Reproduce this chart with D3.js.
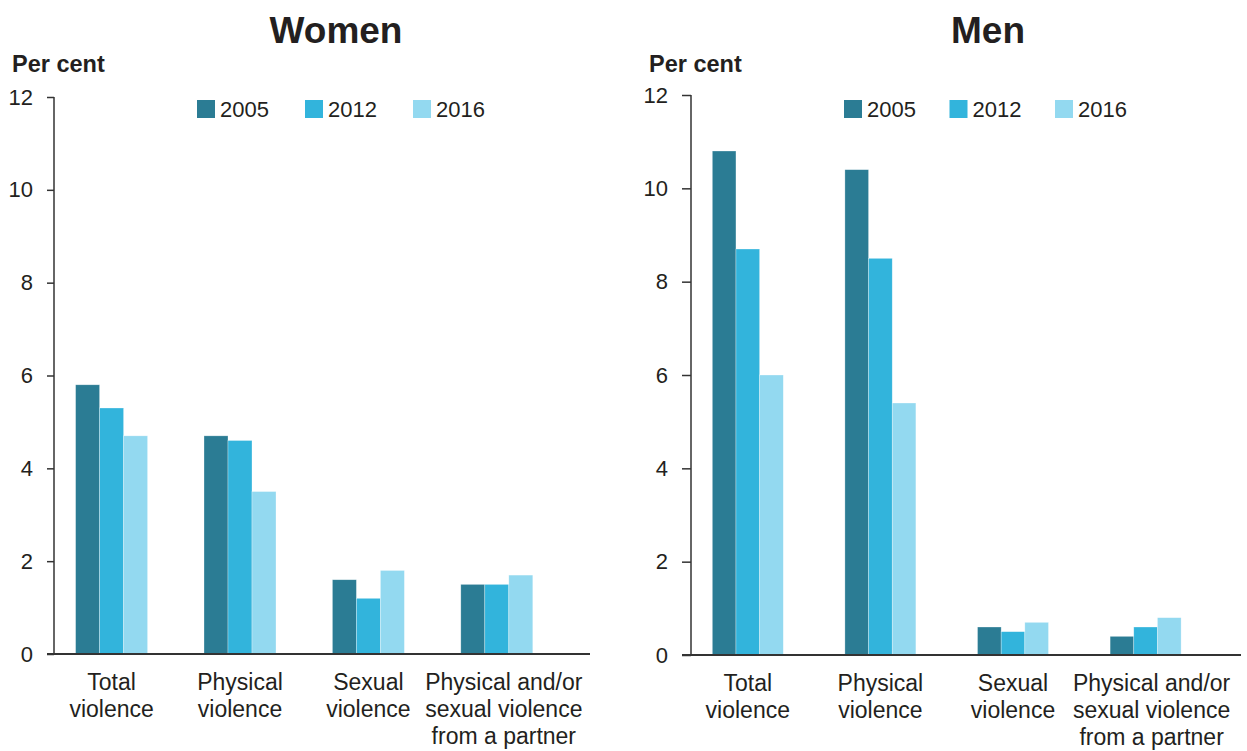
<!DOCTYPE html>
<html><head><meta charset="utf-8">
<script src="https://cdn.jsdelivr.net/npm/d3@7"></script>
<style>body{margin:0;background:#fff}svg{display:block}text{font-family:"Liberation Sans",Arial,sans-serif;fill:#231f20}</style>
</head><body>
<svg id="c" width="1247" height="751"></svg>
<script>
const categories = ["Total violence", "Physical violence", "Sexual violence", "Physical and/or sexual violence from a partner"];
const categoryLines = [["Total","violence"],["Physical","violence"],["Sexual","violence"],["Physical and/or","sexual violence","from a partner"]];
const years = ["2005", "2012", "2016"];
const colors = ["#2b7c94", "#32b4dc", "#93d9f0"];
const yTicks = [0, 2, 4, 6, 8, 10, 12];
const women2005 = [5.8, 4.7, 1.6, 1.5];
const women2012 = [5.3, 4.6, 1.2, 1.5];
const women2016 = [4.7, 3.5, 1.8, 1.7];
const men2005 = [10.8, 10.4, 0.6, 0.4];
const men2012 = [8.7, 8.5, 0.5, 0.6];
const men2016 = [6.0, 5.4, 0.7, 0.8];

const svg = d3.select("#c");

function panel(o) {
  const g = svg.append("g");
  const y = d3.scaleLinear().domain([0, 12]).range([o.y0, o.y12]);
  const x = d3.scaleBand().domain(categories).range([o.bx0, o.bx1]).paddingInner(o.pIn).paddingOuter(o.pOut);
  const xs = d3.scaleBand().domain(years).range([0, x.bandwidth()]);
  const series = o.series;

  g.append("text").attr("x", o.titleX).attr("y", 43).attr("text-anchor", "middle")
    .style("font-size", "37px").style("font-weight", "bold").text(o.title);
  g.append("text").attr("x", o.perX).attr("y", 72)
    .style("font-size", "23.5px").style("font-weight", "bold").text("Per cent");

  // bars
  categories.forEach((c, i) => {
    years.forEach((yr, j) => {
      const v = series[j][i];
      g.append("rect").attr("x", x(c) + xs(yr)).attr("y", y(v))
        .attr("width", xs.bandwidth()).attr("height", y(0) - y(v))
        .attr("fill", colors[j]).attr("stroke", "#fff").attr("stroke-width", 0.6).attr("stroke-opacity", 0.5);
    });
  });

  // y axis
  const ya = g.append("g").attr("transform", `translate(${o.axisX},0)`)
    .call(d3.axisLeft(y).tickValues(yTicks).tickSize(o.tickLen).tickPadding(o.tickPad).tickFormat(d3.format("d")));
  ya.select(".domain").attr("stroke", "#333").attr("stroke-width", 1.5).attr("d", `M0,${y(12)}V${y(0)}`);
  ya.selectAll(".tick line").attr("stroke", "#333").attr("stroke-width", 1.5);
  ya.selectAll(".tick text").style("font-size", "22px").attr("fill", "#231f20").style("font-family", '"Liberation Sans",Arial,sans-serif');

  // x baseline
  g.append("line").attr("x1", o.bx0).attr("x2", o.baseEnd).attr("y1", y(0)).attr("y2", y(0))
    .attr("stroke", "#333").attr("stroke-width", 1.8);

  // category labels
  categories.forEach((c, i) => {
    const t = g.append("text").attr("text-anchor", "middle").style("font-size", "23px");
    categoryLines[i].forEach((ln, k) => {
      t.append("tspan").attr("x", x(c) + x.bandwidth() / 2 + (i === 3 ? o.lastShift : 0))
        .attr("y", y(0) + 35.5 + k * 27).text(ln);
    });
  });

  // legend
  years.forEach((yr, j) => {
    const lx = o.legX + j * o.legStep;
    g.append("rect").attr("x", lx).attr("y", 100).attr("width", 18).attr("height", 18).attr("fill", colors[j]);
    g.append("text").attr("x", lx + 23).attr("y", 117).style("font-size", "22px").text(yr);
  });
}

panel({title: "Women", titleX: 336, perX: 12, y0: 654, y12: 97, axisX: 54, tickLen: 7, tickPad: 14,
  bx0: 47, bx1: 561.4, pIn: 0.4393, pOut: 0.2227, baseEnd: 590,
  series: [women2005, women2012, women2016], legX: 197, legStep: 108, lastShift: 7});
panel({title: "Men", titleX: 988, perX: 649, y0: 655, y12: 95, axisX: 691, tickLen: 9, tickPad: 14,
  bx0: 682, bx1: 1211.4, pIn: 0.4646, pOut: 0.2285, baseEnd: 1241,
  series: [men2005, men2012, men2016], legX: 844, legStep: 105.5, lastShift: 6});
</script>
</body></html>
